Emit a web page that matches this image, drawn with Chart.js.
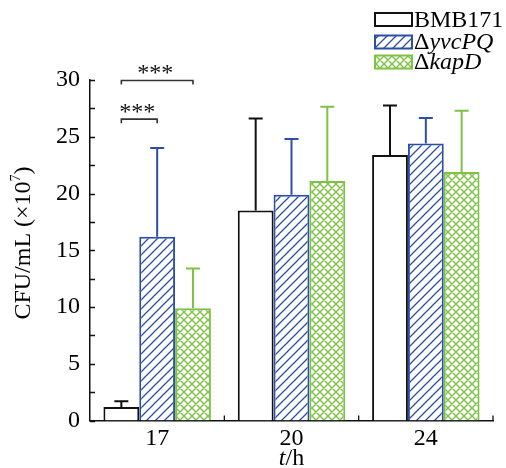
<!DOCTYPE html>
<html><head><meta charset="utf-8">
<script src="https://cdn.jsdelivr.net/npm/chart.js@4"></script>
<style>html,body{margin:0;padding:0;background:#fff}
#probe{position:absolute;left:-1000px;top:0;font-family:'Liberation Serif';font-size:24px}
#probe i{font-style:italic}</style>
</head><body>
<span id="probe">BMB171 <i>yvcPQ</i> ×10</span>
<canvas id="c" width="506" height="468" style="width:506px;height:468px;display:block"></canvas>
<script>
const categories = ['17', '20', '24'];
const bmb171 = [1.2, 18.5, 23.4];
const bmb171Err = [0.5, 8.1, 4.35];
const yvcPQ = [16.2, 19.9, 24.4];
const yvcPQErr = [7.8, 4.9, 2.25];
const kapD = [9.9, 21.1, 21.9];
const kapDErr = [3.5, 6.55, 5.4];
const yMin = 0, yMax = 30, yStep = 5, yMinorStep = 2.5;
const sigCategory = 0;
const sigPairs = [[0, 1], [0, 2]];
const sigLevels = [26.55, 29.95];
const sigLabels = ['***', '***'];

const SERIF = "'Liberation Serif', serif";
const BLACK = '#111111';
const BLUE = '#2d4ea6';
const GREEN = '#7dc243';

function hatch(color) {
  const s = 9, c = document.createElement('canvas');
  c.width = s; c.height = s;
  const g = c.getContext('2d');
  g.fillStyle = '#fff'; g.fillRect(0, 0, s, s);
  g.strokeStyle = color; g.lineWidth = 1.3;
  g.beginPath();
  g.moveTo(-1, s + 1); g.lineTo(s + 1, -1);
  g.moveTo(-1, 1); g.lineTo(1, -1);
  g.moveTo(s - 1, s + 1); g.lineTo(s + 1, s - 1);
  g.stroke();
  return g.createPattern(c, 'repeat');
}
function cross(color) {
  const s = 8, c = document.createElement('canvas');
  c.width = s; c.height = s;
  const g = c.getContext('2d');
  g.fillStyle = '#fff'; g.fillRect(0, 0, s, s);
  g.strokeStyle = color; g.lineWidth = 1.4;
  g.beginPath();
  g.moveTo(-1, s + 1); g.lineTo(s + 1, -1);
  g.moveTo(-1, -1); g.lineTo(s + 1, s + 1);
  g.moveTo(-1, 1); g.lineTo(1, -1);
  g.moveTo(s - 1, s + 1); g.lineTo(s + 1, s - 1);
  g.moveTo(s - 1, -1); g.lineTo(s + 1, 1);
  g.moveTo(-1, s - 1); g.lineTo(1, s + 1);
  g.stroke();
  return g.createPattern(c, 'repeat');
}
const ctx0 = document.getElementById('c').getContext('2d');
const fills = ['#ffffff', hatch(BLUE), cross(GREEN)];
const colors = [BLACK, BLUE, GREEN];
const errs = [bmb171Err, yvcPQErr, kapDErr];
const legendRuns = [
  [{t: 'BMB171', f: '24px ' + SERIF}],
  [{t: '\u0394', f: '24px ' + SERIF}, {t: 'yvcPQ', f: 'italic 24px ' + SERIF}],
  [{t: '\u0394', f: '24px ' + SERIF}, {t: 'kapD', f: 'italic 24px ' + SERIF}]
];

function runsWidth(ctx, runs) {
  let w = 0;
  for (const r of runs) { ctx.font = r.f; w += ctx.measureText(r.t).width; }
  return w;
}
function drawRuns(ctx, runs, x, y) {
  for (const r of runs) {
    ctx.font = r.f;
    ctx.fillText(r.t, x, y + (r.dy || 0));
    x += ctx.measureText(r.t).width;
  }
}

const decor = {
  id: 'decor',
  afterDatasetsDraw(chart) {
    const ctx = chart.ctx, ys = chart.scales.y, ca = chart.chartArea;
    ctx.save();
    chart.data.datasets.forEach((ds, di) => {
      const meta = chart.getDatasetMeta(di);
      meta.data.forEach((bar, i) => {
        const top = ys.getPixelForValue(ds.data[i]);
        const hi = ys.getPixelForValue(ds.data[i] + errs[di][i]);
        ctx.strokeStyle = colors[di]; ctx.lineWidth = 2;
        ctx.beginPath();
        ctx.moveTo(bar.x, top); ctx.lineTo(bar.x, hi);
        ctx.moveTo(bar.x - 7, hi); ctx.lineTo(bar.x + 7, hi);
        ctx.stroke();
      });
    });
    ctx.strokeStyle = BLACK; ctx.lineWidth = 1.3;
    ctx.beginPath();
    for (let v = yMin; v <= yMax + 1e-9; v += yMinorStep) {
      const p = Math.round(ys.getPixelForValue(v)) + 0.5;
      ctx.moveTo(ca.left, p); ctx.lineTo(ca.left + 5, p);
    }
    const n = categories.length;
    for (let i = 1; i <= n; i++) {
      const p = (ca.left + (ca.right - ca.left) * i / n);
      ctx.moveTo(p, ca.bottom); ctx.lineTo(p, ca.bottom - 5);
    }
    ctx.stroke();
    ctx.strokeStyle = '#333'; ctx.fillStyle = '#111'; ctx.lineWidth = 1.6;
    sigPairs.forEach((pair, k) => {
      const a = chart.getDatasetMeta(pair[0]).data[sigCategory].x;
      const b = chart.getDatasetMeta(pair[1]).data[sigCategory].x;
      const y = ys.getPixelForValue(sigLevels[k]);
      ctx.beginPath();
      ctx.moveTo(a, y + 4); ctx.lineTo(a, y); ctx.lineTo(b, y); ctx.lineTo(b, y + 4);
      ctx.stroke();
      ctx.font = '24px ' + SERIF; ctx.textAlign = 'center'; ctx.textBaseline = 'alphabetic';
      ctx.fillText(sigLabels[k], (a + b) / 2 - 2, y - 0.5);
    });
    ctx.textAlign = 'left'; ctx.textBaseline = 'middle';
    const rowY = [19.5, 42, 62];
    legendRuns.forEach((runs, i) => {
      ctx.fillStyle = fills[i];
      ctx.fillRect(375, rowY[i] - 6.5, 37, 13);
      ctx.strokeStyle = colors[i]; ctx.lineWidth = 2;
      ctx.strokeRect(375, rowY[i] - 6.5, 37, 13);
      ctx.fillStyle = '#000';
      drawRuns(ctx, runs, 414, rowY[i] + 1);
    });
    const xt = [{t: 't', f: 'italic 24px ' + SERIF}, {t: '/h', f: '24px ' + SERIF}];
    const w = runsWidth(ctx, xt);
    ctx.textBaseline = 'alphabetic';
    drawRuns(ctx, xt, (ca.left + ca.right) / 2 - w / 2, 465);
    const yt = [{t: 'CFU/mL (\u00d710', f: '24px ' + SERIF}, {t: '7', f: '14px ' + SERIF, dy: -10}, {t: ')', f: '24px ' + SERIF}];
    const wy = runsWidth(ctx, yt);
    ctx.translate(30, 243);
    ctx.rotate(-Math.PI / 2);
    drawRuns(ctx, yt, -wy / 2, 0);
    ctx.restore();
  }
};

function build() {
  new Chart(ctx0, {
    type: 'bar',
    data: {
      labels: categories,
      datasets: [
        {label: 'BMB171', data: bmb171, backgroundColor: fills[0], borderColor: colors[0], borderWidth: 2},
        {label: '\u0394yvcPQ', data: yvcPQ, backgroundColor: fills[1], borderColor: colors[1], borderWidth: 2},
        {label: '\u0394kapD', data: kapD, backgroundColor: fills[2], borderColor: colors[2], borderWidth: 2}
      ]
    },
    options: {
      responsive: false,
      animation: false,
      devicePixelRatio: 1,
      categoryPercentage: 0.8,
      barPercentage: 1.0,
      layout: {padding: {top: 80, right: 13, left: 0, bottom: 0}},
      plugins: {legend: {display: false}, tooltip: {enabled: false}},
      scales: {
        x: {
          grid: {display: false, drawTicks: false},
          border: {display: true, color: BLACK, width: 1.5},
          ticks: {color: '#000', font: {family: SERIF, size: 24}, padding: 4},
          afterFit: s => { s.height = 47.5; }
        },
        y: {
          min: yMin, max: yMax,
          grid: {display: false, drawTicks: false},
          border: {display: true, color: BLACK, width: 1.5},
          ticks: {stepSize: yStep, color: '#000', font: {family: SERIF, size: 24}, padding: 10},
          afterFit: s => { s.width = 90; }
        }
      }
    },
    plugins: [decor]
  });
}
Promise.all([
  document.fonts.load("24px 'Liberation Serif'"),
  document.fonts.load("italic 24px 'Liberation Serif'")
]).then(build, build);
</script>
</body></html>
